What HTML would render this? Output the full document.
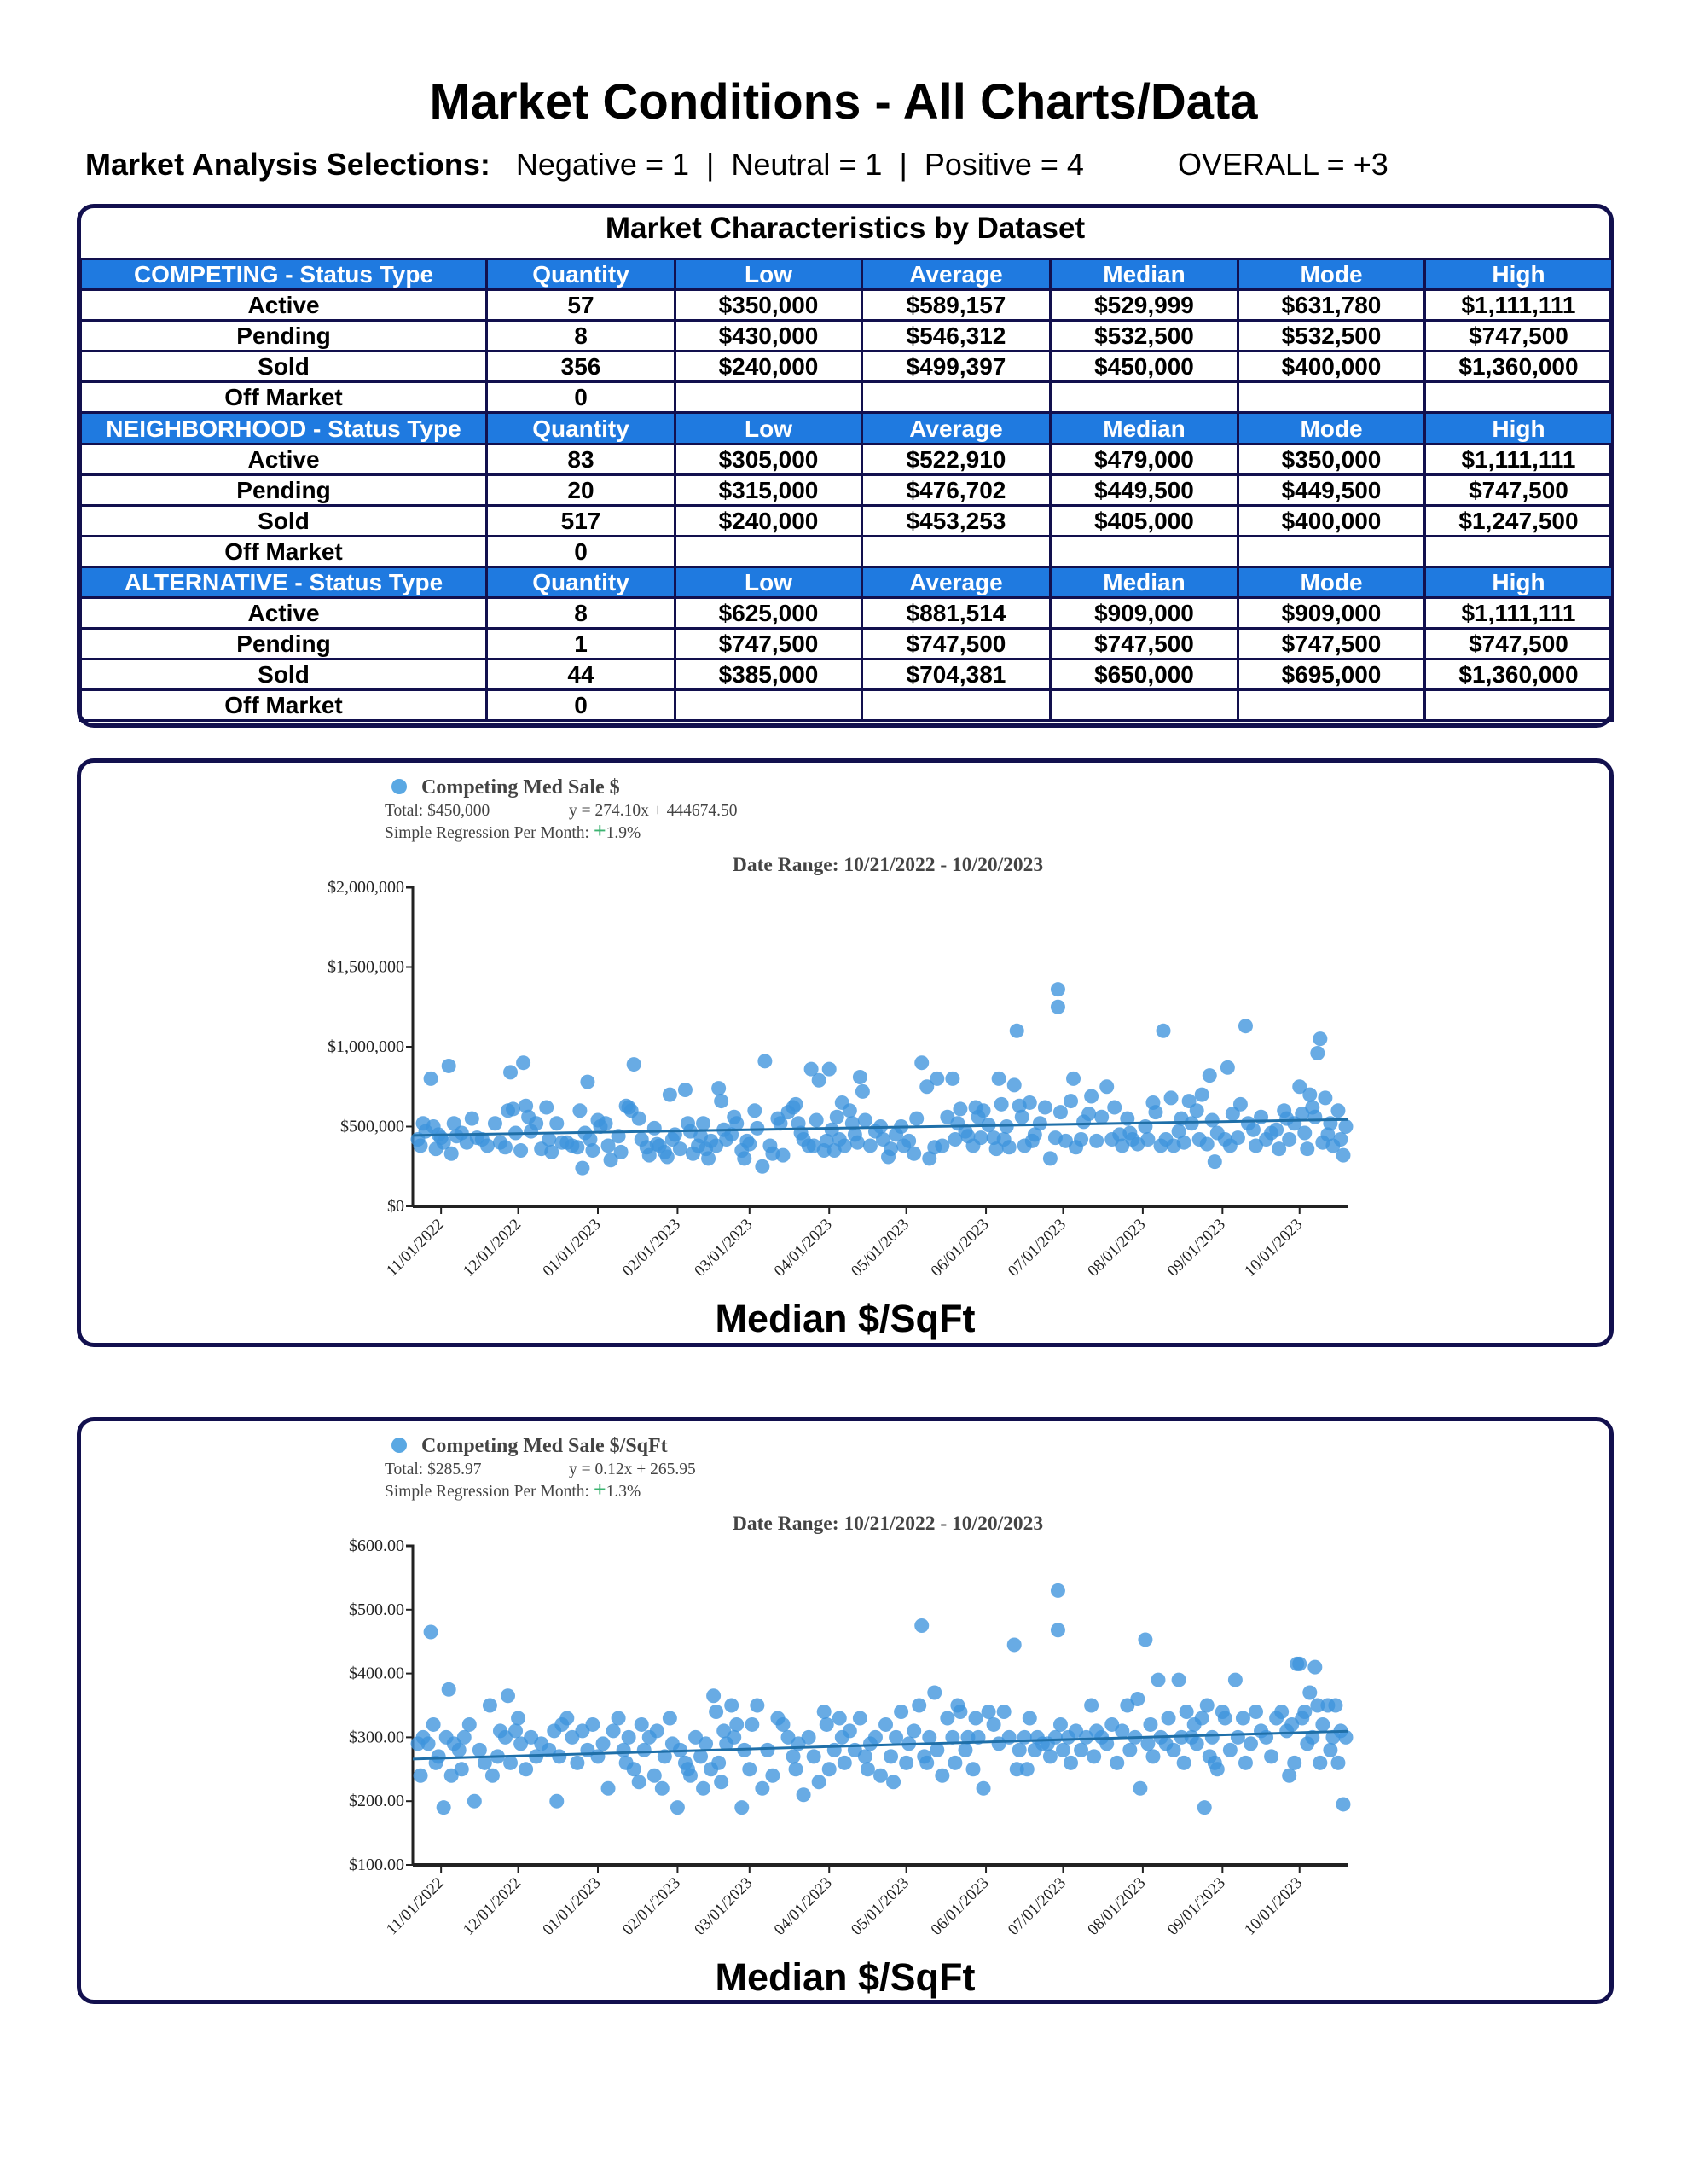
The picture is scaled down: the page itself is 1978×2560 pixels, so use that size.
<!DOCTYPE html>
<html><head><meta charset="utf-8">
<style>
body{margin:0;background:#fff;}
#page{position:relative;width:1978px;height:2560px;overflow:hidden;background:#fff;font-family:"Liberation Sans",sans-serif;}
.title{position:absolute;left:0;width:1978px;top:86px;text-align:center;font-weight:bold;font-size:58px;color:#000;}
.sel{position:absolute;top:172px;left:100px;font-size:36px;color:#000;white-space:pre;}
.box{position:absolute;left:90px;width:1792px;border:5px solid #12104e;border-radius:20px;background:#fff;}
.tt{position:absolute;left:90px;width:1802px;top:248px;text-align:center;font-weight:bold;font-size:35px;}
table{position:absolute;left:93px;top:302px;width:1796px;border-collapse:collapse;table-layout:fixed;}
tr{height:36.1px;}
td{border:3px solid #12104e;padding:0;text-align:center;font-weight:bold;font-size:28px;line-height:29px;}
tr.h td{background:#1f7ae0;color:#fff;font-weight:bold;}
</style></head>
<body>
<div id="page">
<div class="title">Market Conditions - All Charts/Data</div>
<div class="sel"><b>Market Analysis Selections:</b>   Negative = 1  |  Neutral = 1  |  Positive = 4           OVERALL = +3</div>

<div class="box" style="top:239px;height:604px;"></div>
<div class="tt">Market Characteristics by Dataset</div>
<table>
<colgroup><col style="width:476px"><col style="width:221px"><col style="width:219px"><col style="width:221px"><col style="width:220px"><col style="width:219px"><col style="width:220px"></colgroup>
<tr class="h"><td>COMPETING - Status Type</td><td>Quantity</td><td>Low</td><td>Average</td><td>Median</td><td>Mode</td><td>High</td></tr>
<tr><td>Active</td><td>57</td><td>$350,000</td><td>$589,157</td><td>$529,999</td><td>$631,780</td><td>$1,111,111</td></tr>
<tr><td>Pending</td><td>8</td><td>$430,000</td><td>$546,312</td><td>$532,500</td><td>$532,500</td><td>$747,500</td></tr>
<tr><td>Sold</td><td>356</td><td>$240,000</td><td>$499,397</td><td>$450,000</td><td>$400,000</td><td>$1,360,000</td></tr>
<tr><td>Off Market</td><td>0</td><td></td><td></td><td></td><td></td><td></td></tr>
<tr class="h"><td>NEIGHBORHOOD - Status Type</td><td>Quantity</td><td>Low</td><td>Average</td><td>Median</td><td>Mode</td><td>High</td></tr>
<tr><td>Active</td><td>83</td><td>$305,000</td><td>$522,910</td><td>$479,000</td><td>$350,000</td><td>$1,111,111</td></tr>
<tr><td>Pending</td><td>20</td><td>$315,000</td><td>$476,702</td><td>$449,500</td><td>$449,500</td><td>$747,500</td></tr>
<tr><td>Sold</td><td>517</td><td>$240,000</td><td>$453,253</td><td>$405,000</td><td>$400,000</td><td>$1,247,500</td></tr>
<tr><td>Off Market</td><td>0</td><td></td><td></td><td></td><td></td><td></td></tr>
<tr class="h"><td>ALTERNATIVE - Status Type</td><td>Quantity</td><td>Low</td><td>Average</td><td>Median</td><td>Mode</td><td>High</td></tr>
<tr><td>Active</td><td>8</td><td>$625,000</td><td>$881,514</td><td>$909,000</td><td>$909,000</td><td>$1,111,111</td></tr>
<tr><td>Pending</td><td>1</td><td>$747,500</td><td>$747,500</td><td>$747,500</td><td>$747,500</td><td>$747,500</td></tr>
<tr><td>Sold</td><td>44</td><td>$385,000</td><td>$704,381</td><td>$650,000</td><td>$695,000</td><td>$1,360,000</td></tr>
<tr><td>Off Market</td><td>0</td><td></td><td></td><td></td><td></td><td></td></tr>
</table>

<div class="box" style="top:889px;height:680px;"></div>
<div class="box" style="top:1661px;height:678px;"></div>
<svg id="charts" width="1978" height="2560" style="position:absolute;left:0;top:0;"></svg>
</div>
<script>
const tickMonths = ["11/01/2022","12/01/2022","01/01/2023","02/01/2023","03/01/2023","04/01/2023","05/01/2023","06/01/2023","07/01/2023","08/01/2023","09/01/2023","10/01/2023"];
const tickDays = [11,41,72,103,131,162,192,223,253,284,315,345];
const saleTicks = [0,500000,1000000,1500000,2000000];
const saleTickLabels = ["$0","$500,000","$1,000,000","$1,500,000","$2,000,000"];
const sqftTicks = [100,200,300,400,500,600];
const sqftTickLabels = ["$100.00","$200.00","$300.00","$400.00","$500.00","$600.00"];
const saleRegression = [274.10, 444674.50];
const sqftRegression = [0.12, 265.95];
// [day since 10/21/2022, value in $k]
const salePoints = [[2,420],[3,380],[4,520],[5,470],[7,800],[8,500],[9,360],[10,450],[11,430],[12,400],[14,880],[15,330],[16,520],[17,440],[19,460],[21,400],[23,550],[25,430],[27,420],[29,380],[32,520],[34,400],[36,370],[37,600],[38,840],[39,610],[40,460],[42,350],[43,900],[44,630],[45,560],[46,470],[48,520],[50,360],[52,620],[53,420],[54,340],[56,520],[58,400],[60,400],[62,380],[64,370],[65,600],[66,240],[67,460],[68,780],[69,420],[70,350],[72,540],[73,500],[75,520],[76,380],[77,290],[80,440],[81,340],[83,630],[84,620],[85,600],[86,890],[88,550],[89,420],[91,370],[92,320],[94,490],[95,390],[96,380],[98,340],[99,310],[100,700],[101,420],[102,450],[104,360],[106,730],[107,520],[108,470],[109,330],[111,380],[112,440],[113,520],[114,360],[115,300],[116,410],[118,380],[119,740],[120,660],[121,480],[122,420],[124,450],[125,560],[126,520],[128,350],[129,300],[130,410],[131,390],[133,600],[134,490],[136,250],[137,910],[139,380],[140,330],[142,550],[143,520],[144,320],[146,590],[148,620],[149,640],[150,520],[151,460],[152,420],[154,380],[155,860],[156,380],[157,540],[158,790],[160,350],[161,410],[162,860],[163,480],[164,350],[165,560],[166,420],[167,650],[168,380],[170,600],[171,520],[172,450],[173,400],[174,810],[175,720],[176,540],[178,380],[180,470],[182,500],[183,420],[185,310],[186,360],[188,450],[190,500],[191,380],[193,410],[195,330],[196,550],[198,900],[200,750],[201,300],[203,370],[204,800],[206,380],[208,560],[210,800],[211,420],[212,520],[213,610],[215,470],[216,440],[218,380],[219,620],[220,560],[221,430],[222,600],[224,510],[226,430],[227,360],[228,800],[229,640],[230,420],[231,500],[232,370],[234,760],[235,1100],[236,630],[237,560],[238,380],[240,650],[241,410],[242,450],[244,520],[246,620],[248,300],[250,430],[251,1360],[251,1250],[252,590],[254,410],[256,660],[257,800],[258,370],[260,420],[261,530],[263,580],[264,690],[266,410],[268,560],[270,750],[272,420],[273,620],[275,450],[276,380],[278,550],[279,460],[280,420],[282,390],[285,500],[286,420],[288,650],[289,590],[291,380],[292,1100],[293,420],[295,680],[296,380],[298,470],[299,550],[300,400],[302,660],[303,520],[305,600],[306,420],[307,700],[309,390],[310,820],[311,540],[312,280],[313,460],[316,420],[317,870],[318,380],[319,580],[321,430],[322,640],[324,1130],[325,520],[327,480],[328,380],[330,560],[332,420],[334,460],[336,480],[337,360],[339,600],[340,550],[341,420],[343,520],[345,750],[346,580],[347,460],[348,360],[349,700],[350,620],[351,560],[352,960],[353,1050],[354,400],[355,680],[356,450],[357,520],[358,380],[360,600],[361,420],[362,320],[363,500]];
const sqftPoints = [[2,290],[3,240],[4,300],[6,290],[7,465],[8,320],[9,260],[10,270],[12,190],[13,300],[14,375],[15,240],[16,290],[18,280],[19,250],[20,300],[22,320],[24,200],[26,280],[28,260],[30,350],[31,240],[33,270],[34,310],[36,300],[37,365],[38,260],[40,310],[41,330],[42,290],[44,250],[46,300],[48,270],[50,290],[53,280],[55,310],[56,200],[57,270],[58,320],[60,330],[62,300],[64,260],[66,310],[68,280],[70,320],[72,270],[74,290],[76,220],[78,310],[80,330],[82,280],[83,260],[84,300],[86,250],[88,230],[89,320],[90,280],[92,300],[94,240],[95,310],[97,220],[98,270],[100,330],[101,290],[103,190],[104,280],[106,260],[107,250],[108,240],[110,300],[112,270],[113,220],[114,290],[116,250],[117,365],[118,340],[119,260],[120,230],[121,310],[122,290],[124,350],[125,300],[126,320],[128,190],[129,280],[131,250],[132,320],[134,350],[136,220],[138,280],[140,240],[142,330],[144,320],[146,300],[148,270],[149,250],[150,290],[152,210],[154,300],[156,270],[158,230],[160,340],[161,320],[162,250],[164,280],[166,330],[167,300],[168,260],[170,310],[172,280],[174,330],[176,270],[177,250],[178,290],[180,300],[182,240],[184,320],[186,270],[187,230],[188,300],[190,340],[192,260],[193,290],[195,310],[197,350],[198,475],[199,270],[200,260],[201,300],[203,370],[204,280],[206,240],[208,330],[210,300],[211,260],[212,350],[213,340],[215,280],[216,300],[218,250],[219,330],[220,300],[222,220],[224,340],[226,320],[228,290],[230,340],[232,300],[234,445],[235,250],[236,280],[238,300],[239,250],[240,330],[242,280],[243,300],[245,290],[247,290],[248,270],[250,300],[251,530],[251,468],[252,320],[253,280],[255,300],[256,260],[258,310],[260,280],[262,300],[264,350],[265,270],[266,310],[268,300],[270,290],[272,320],[274,260],[276,310],[278,350],[279,280],[281,300],[282,360],[283,220],[285,453],[286,290],[287,320],[288,270],[290,390],[291,300],[293,290],[294,330],[296,280],[298,390],[299,300],[300,260],[301,340],[303,300],[304,320],[305,290],[307,330],[308,190],[309,350],[310,270],[311,300],[312,260],[313,250],[315,340],[316,330],[318,280],[320,390],[321,300],[323,330],[324,260],[326,290],[328,340],[330,310],[332,300],[334,270],[336,330],[338,340],[340,310],[341,240],[342,320],[343,260],[344,415],[345,415],[346,330],[347,340],[348,290],[349,370],[350,300],[351,410],[352,350],[353,260],[354,320],[356,350],[357,280],[358,300],[359,350],[360,260],[361,310],[362,195],[363,300]];

const NS = "http://www.w3.org/2000/svg";
const svg = document.getElementById("charts");
function mk(tag, attrs, parent, text){
  const e = document.createElementNS(NS, tag);
  for (const k in attrs) e.setAttribute(k, attrs[k]);
  if (text !== undefined) e.textContent = text;
  (parent||svg).appendChild(e);
  return e;
}
function drawChart(cfg){
  const g = mk("g", {});
  
  
  const x0 = 484, x1 = 1581, dayMax = 364;
  const xs = d => x0 + d * (x1 - x0) / dayMax;
  const ys = v => cfg.yBot - (v - cfg.vMin) / (cfg.vMax - cfg.vMin) * (cfg.yBot - cfg.yTop);
  const o = cfg.oy;
  const ld = mk("circle", {cx:468, cy:922+o, r:9, fill:"#5aa8e3"}, g);
  
  
  const lt = mk("text", {x:494, y:930+o, "font-family":"Liberation Serif, serif", "font-size":24, "font-weight":"bold", fill:"#444"}, g, cfg.legend);
  
  
  const t1 = mk("text", {x:451, y:956+o, "font-family":"Liberation Serif, serif", "font-size":19.5, fill:"#444"}, g, cfg.total);
  
  
  const t2 = mk("text", {x:667, y:956+o, "font-family":"Liberation Serif, serif", "font-size":19.5, fill:"#444"}, g, cfg.eq);
  
  
  const t3 = mk("text", {x:451, y:982+o, "font-family":"Liberation Serif, serif", "font-size":19.5, fill:"#444"}, g);
  
  
  t3.appendChild(document.createTextNode("Simple Regression Per Month: "));
  const ts = mk("tspan", {fill:"#3cb371", "font-size":26, "font-weight":"bold"}, t3, "+");
  
  
  t3.appendChild(document.createTextNode(cfg.pct));
  const dr = mk("text", {x:1041, y:1021+o, "text-anchor":"middle", "font-family":"Liberation Serif, serif", "font-size":23.5, "font-weight":"bold", fill:"#444"}, g, "Date Range: 10/21/2022 - 10/20/2023");
  
  
  const ya = mk("path", {d:`M${x0-8},${cfg.yTop}H${x0}V${cfg.yBot}`, stroke:"#222", "stroke-width":3, fill:"none"}, g);
  
  
  cfg.ticks.forEach((v,i)=>{
    const y = ys(v);
    const tl = mk("line", {x1:x0-8, x2:x0, y1:y, y2:y, stroke:"#222", "stroke-width":2}, g);
    
    
    const tx = mk("text", {x:x0-10, y:y+6, "text-anchor":"end", "font-family":"Liberation Serif, serif", "font-size":20, fill:"#222"}, g, cfg.tickLabels[i]);
    
    
  });
  cfg.points.forEach(p=>{
    const c = mk("circle", {cx:xs(p[0]), cy:ys(cfg.scale*p[1]), r:8.5, fill:"#3d93dc", "fill-opacity":0.78}, g);
    
    
  });
  const rl = mk("line", {x1:xs(0), y1:ys(cfg.reg[1]), x2:xs(dayMax), y2:ys(cfg.reg[0]*dayMax+cfg.reg[1]), stroke:"#1f6fa8", "stroke-width":3}, g);
  
  
  const xa = mk("line", {x1:x0, x2:x1, y1:cfg.yBot, y2:cfg.yBot, stroke:"#222", "stroke-width":4}, g);
  
  
  tickDays.forEach((d,i)=>{
    const x = xs(d);
    const tl = mk("line", {x1:x, x2:x, y1:cfg.yBot, y2:cfg.yBot+9, stroke:"#222", "stroke-width":2}, g);
    
    
    const tx = mk("text", {x:x+4, y:cfg.yBot+22, "text-anchor":"end", transform:`rotate(-45 ${x+4} ${cfg.yBot+22})`, "font-family":"Liberation Serif, serif", "font-size":19, fill:"#222"}, g, tickMonths[i]);
    
    
  });
  const ft = mk("text", {x:991, y:1561+o, "text-anchor":"middle", "font-family":"Liberation Sans, sans-serif", "font-size":45, "font-weight":"bold", fill:"#000"}, g, "Median $/SqFt");
  
  
}
drawChart({name:"sale-price-chart", oy:0, yTop:1040, yBot:1414, vMin:0, vMax:2000000, scale:1000, points:salePoints, ticks:saleTicks, tickLabels:saleTickLabels, reg:saleRegression, legend:"Competing Med Sale $", total:"Total: $450,000", eq:"y = 274.10x + 444674.50", pct:"1.9%"});
drawChart({name:"sqft-price-chart", oy:772, yTop:1812, yBot:2186, vMin:100, vMax:600, scale:1, points:sqftPoints, ticks:sqftTicks, tickLabels:sqftTickLabels, reg:sqftRegression, legend:"Competing Med Sale $/SqFt", total:"Total: $285.97", eq:"y = 0.12x + 265.95", pct:"1.3%"});
</script>
</body></html>
